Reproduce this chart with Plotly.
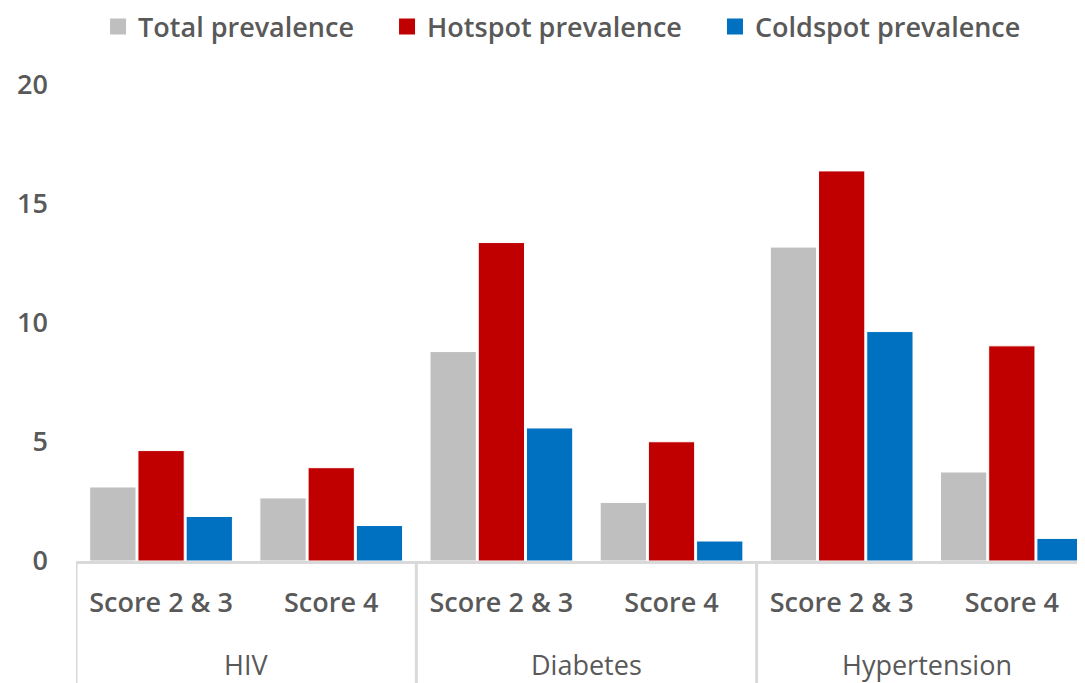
import plotly.graph_objects as go

diseases = ["HIV", "HIV", "Diabetes", "Diabetes", "Hypertension", "Hypertension"]
scores = ["Score 2 & 3", "Score 4", "Score 2 & 3", "Score 4", "Score 2 & 3", "Score 4"]
total = [3.11, 2.65, 8.80, 2.46, 13.19, 3.74]
hotspot = [4.64, 3.92, 13.38, 5.01, 16.39, 9.04]
coldspot = [1.87, 1.49, 5.59, 0.84, 9.64, 0.95]
series = [("Total prevalence", total, "#BFBFBF"),
          ("Hotspot prevalence", hotspot, "#C00000"),
          ("Coldspot prevalence", coldspot, "#0070C0")]

font_family = "Open Sans, Noto Sans, sans-serif"
txt = "#595959"
fs = 27
fw = 600
pad = "\u00a0" * 4

keys = [f"{d}|{s}" for d, s in zip(diseases, scores)]

fig = go.Figure()
for name, vals, col in series:
    fig.add_trace(go.Bar(x=keys, y=vals, name=name, showlegend=False,
                         marker=dict(color=col, line=dict(color="white", width=1))))
# legend-only entries with larger square swatches
for name, vals, col in series:
    fig.add_trace(go.Scatter(x=[None], y=[None], mode="markers", name=name + pad,
                             marker=dict(symbol="square", size=16, color=col)))

# group labels and dividers derived from the category structure
groups = []
for i, d in enumerate(diseases):
    if not groups or groups[-1][0] != d:
        groups.append([d, i, i])
    else:
        groups[-1][2] = i
annotations = []
shapes = []
for d, i0, i1 in groups:
    annotations.append(dict(text=d, x=(i0 + i1) / 2, xref="x", y=-0.2164, yref="paper",
                            showarrow=False, yanchor="middle",
                            font=dict(size=fs, color=txt, family=font_family, weight=400)))
    shapes.append(dict(type="line", xref="x", x0=i0 - 0.5, x1=i0 - 0.5,
                       yref="paper", y0=0, y1=-0.3,
                       line=dict(color="#D9D9D9", width=3)))

fig.update_layout(
    width=1085, height=683,
    barmode="group", bargap=0.15, bargroupgap=0.04,
    plot_bgcolor="white", paper_bgcolor="white",
    margin=dict(l=68, r=8, t=77, b=130),
    font=dict(family=font_family, size=fs, color=txt, weight=fw),
    legend=dict(orientation="h", xref="container", x=0.083, xanchor="left",
                yref="container", y=0.9722, yanchor="middle",
                font=dict(size=fs, color=txt, weight=fw), traceorder="normal"),
    showlegend=True,
    annotations=annotations,
    shapes=shapes,
)
fig.update_xaxes(type="category", categoryorder="array", categoryarray=keys,
                 tickvals=keys, ticktext=scores, range=[-0.5, 5.43],
                 showline=True, linecolor="#D9D9D9", linewidth=3,
                 ticks="", ticklabelstandoff=16,
                 tickfont=dict(size=fs, color=txt, weight=fw), showgrid=False)
fig.update_yaxes(range=[0, 20], tickvals=[0, 5, 10, 15, 20], showgrid=False,
                 zeroline=False, showline=False, ticklabelstandoff=27,
                 tickfont=dict(size=fs, color=txt, weight=fw))

fig.write_html("out.html")
